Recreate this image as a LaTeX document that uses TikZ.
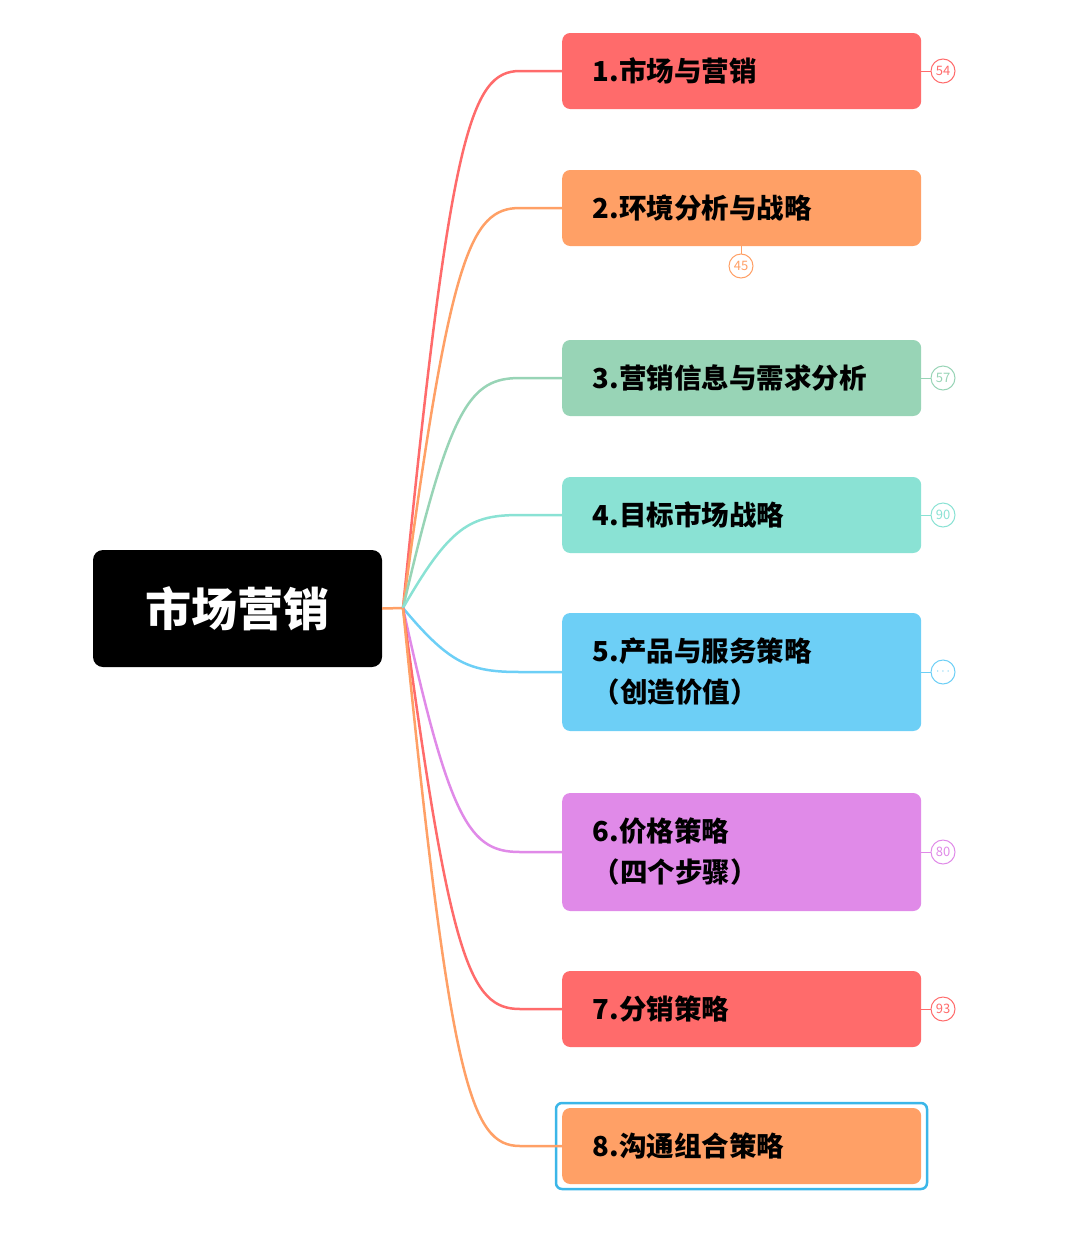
\documentclass[tikz,border=0pt]{standalone}
\usepackage{fontspec}
\setmainfont{Noto Sans CJK SC}
\definecolor{cred}{HTML}{FF6B6B}
\definecolor{corg}{HTML}{FFA066}
\definecolor{cgrn}{HTML}{98D4B6}
\definecolor{cteal}{HTML}{8AE2D4}
\definecolor{cblue}{HTML}{6DCFF6}
\definecolor{cpur}{HTML}{E08AE8}
\definecolor{csel}{HTML}{3BB6E8}
\begin{document}
\begin{tikzpicture}[x=1pt,y=-1pt,
  br/.style={draw=none,rounded corners=8pt,minimum width=359pt,text width=340pt,align=left,inner xsep=0pt,font=\fontsize{27.5}{41}\selectfont\bfseries,text=black,anchor=west},
  badge/.style={circle,draw=#1,fill=white,line width=1pt,minimum size=24pt,inner sep=0pt,font=\fontsize{13}{13}\selectfont,text=#1},
  con/.style={line width=2.5pt,draw=#1}]
\useasboundingbox (0,0) rectangle (1080,1245);
\node[fill=black,rounded corners=10pt,minimum width=289pt,minimum height=117pt,text=white,font=\fontsize{46}{46}\selectfont\bfseries] (root) at (237.5,608.5) {市场营销};
\coordinate (o) at (403,608);
\draw[line width=2.5pt,draw=corg] (root.east) -- (o);
\def\mk#1#2#3#4#5{%
  \node[br,fill=#3,minimum height=#4pt] (#1) at (562,#2) {\hspace*{21pt}#5};
}
\mk{b1}{71}{cred}{76}{1.市场与营销}
\mk{b2}{208}{corg}{76}{2.环境分析与战略}
\mk{b3}{378}{cgrn}{76}{3.营销信息与需求分析}
\mk{b4}{515}{cteal}{76}{4.目标市场战略}
\mk{b5}{672}{cblue}{118}{\parbox[c]{300pt}{5.产品与服务策略\\（创造价值）}}
\mk{b6}{852}{cpur}{118}{\parbox[c]{300pt}{6.价格策略\\（四个步骤）}}
\mk{b7}{1009}{cred}{76}{7.分销策略}
\mk{b8}{1146}{corg}{76}{8.沟通组合策略}
\draw[csel,line width=2.5pt,rounded corners=6pt] (556,1103) rectangle (927,1189);
\foreach \n/\y/\c in {b1/71/cred,b2/208/corg,b3/378/cgrn,b4/515/cteal,b5/672/cblue,b6/852/cpur,b7/1009/cred,b8/1146/corg}{
  \pgfmathsetmacro\cy{608+(\y-608)*0.88}
  \draw[con=\c] (o) .. controls (450,\cy) and (470,\y) .. (520,\y) -- (\n.west);
}
\foreach \n/\y/\c/\t in {b1/71/cred/54,b3/378/cgrn/57,b4/515/cteal/90,b5/672/cblue/$\cdots$,b6/852/cpur/80,b7/1009/cred/93}{
  \node[badge=\c] (k\n) at (943,\y) {\t};
  \draw[\c,line width=1pt] (\n.east) -- (k\n);
}
\node[badge=corg] (kb2) at (741,266) {45};
\draw[corg,line width=1pt] (741,246) -- (kb2);
\end{tikzpicture}
\end{document}
